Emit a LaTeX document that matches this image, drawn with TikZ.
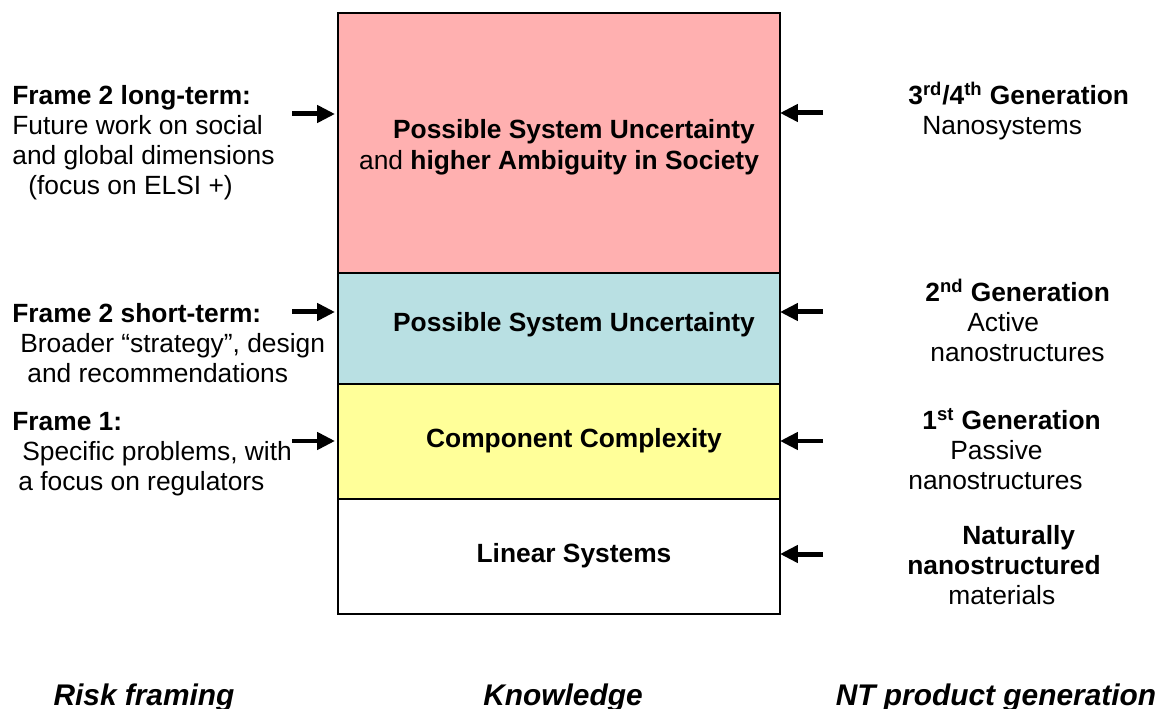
\documentclass[tikz,border=0pt]{standalone}
\usepackage{fontspec}
\setmainfont{Liberation Sans}
\usetikzlibrary{arrows.meta,positioning}

\definecolor{riskpink}{HTML}{FFB0B0}
\definecolor{riskblue}{HTML}{B9E0E3}
\definecolor{riskyellow}{HTML}{FFFF99}

\begin{document}
\begin{tikzpicture}[x=0.02cm,y=-0.02cm,>={Triangle[length=3.6mm,width=3.4mm]},
        layer/.style={draw,line width=1pt,inner sep=0pt,outer sep=0pt,minimum width=8.84cm},
        txt/.style={inner sep=0pt,font=\fontsize{15}{17}\selectfont},
        side/.style={txt,anchor=north west,align=left},
        footer/.style={inner sep=0pt,anchor=base,font=\fontsize{17}{20}\selectfont\bfseries\itshape},
        push/.style={->,line width=0.1cm}]

  \useasboundingbox (0,0) rectangle (1163,709);

  % knowledge layers
  \node[layer,fill=riskpink,minimum height=5.2cm] (pink) at (559,143) {};
  \node[layer,fill=riskblue,minimum height=2.22cm] (blue) [below=0pt of pink] {};
  \node[layer,fill=riskyellow,minimum height=2.3cm] (yellow) [below=0pt of blue] {};
  \node[layer,fill=white,minimum height=2.3cm] (linear) [below=0pt of yellow] {};

  \node[txt,anchor=base] (pinkA) at (574,139) {\bfseries Possible System Uncertainty};
  \node[txt,anchor=base] (pinkB) at (559,170) {and \bfseries higher Ambiguity in Society};
  \node[txt,anchor=base] (blueL) at (574,332) {\bfseries Possible System Uncertainty};
  \node[txt,anchor=base] (yellowL) at (574,447) {\bfseries Component Complexity};
  \node[txt,anchor=base] (linearL) at (574,562) {\bfseries Linear Systems};

  % risk framing
  \node[side] (frame2l) at (12,85) {\textbf{Frame 2 long-term:}\\Future work on social\\and global dimensions\\\hspace*{0.32cm}(focus on ELSI +)};
  \node[side] (frame2s) at (12,303) {\textbf{Frame 2 short-term:}\\\hspace*{0.16cm}Broader “strategy”, design\\\hspace*{0.3cm}and recommendations};
  \node[side] (frame1) at (12,412) {\textbf{Frame 1:}\\\hspace*{0.2cm}Specific problems, with\\\hspace*{0.12cm}a focus on regulators};

  % product generations
  \node[side] (gen34) at (908,85) {\textbf{3\smash{\textsuperscript{rd}}/4\smash{\textsuperscript{th}} Generation}\\\hspace*{0.28cm}Nanosystems};
  \node[side] (gen2) at (925,282) {\textbf{2\smash{\textsuperscript{nd}} Generation}\\\hspace*{0.84cm}Active\\\hspace*{0.1cm}nanostructures};
  \node[side] (gen1) at (908,410) {\hspace*{0.28cm}\textbf{1\smash{\textsuperscript{st}} Generation}\\\hspace*{0.84cm}Passive\\nanostructures};
  \node[side] (gen0) at (907,525) {\hspace*{1.1cm}\textbf{Naturally}\\\textbf{nanostructured}\\\hspace*{0.82cm}materials};

  \coordinate (in1) at (292,114);
  \coordinate (in2) at (292,312);
  \coordinate (in3) at (292,441);
  \coordinate (out1) at (823,113);
  \coordinate (out2) at (823,312);
  \coordinate (out3) at (823,441);
  \coordinate (out4) at (823,554);

  \path (in1) edge[push,shorten >=0.06cm] (in1 -| pink.west)
        (in2) edge[push,shorten >=0.06cm] (in2 -| blue.west)
        (in3) edge[push,shorten >=0.06cm] (in3 -| yellow.west)
        (out1) edge[push] (out1 -| pink.east)
        (out2) edge[push] (out2 -| blue.east)
        (out3) edge[push] (out3 -| yellow.east)
        (out4) edge[push] (out4 -| linear.east);

  \node[footer] (riskfr) at (144,705) {Risk framing};
  \node[footer] (knowl) at (563,705) {Knowledge};
  \node[footer] (ntgen) at (996,705) {NT product generation};

\end{tikzpicture}
\end{document}
